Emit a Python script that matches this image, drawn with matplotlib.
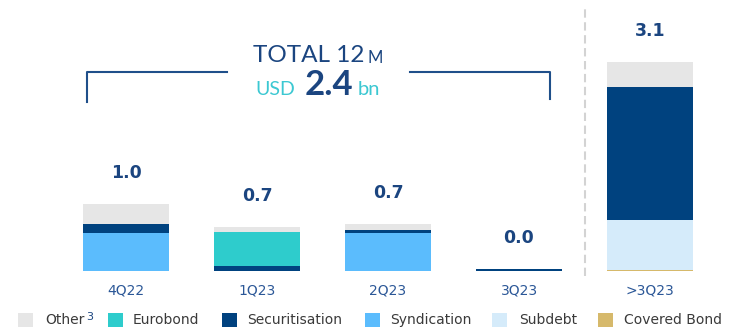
import matplotlib.pyplot as plt
from matplotlib.patches import Rectangle
import numpy as np

# Issuance by quarter, USD bn
periods = ['4Q22', '1Q23', '2Q23', '3Q23', '>3Q23']
covered_bond = [0.0, 0.0, 0.0, 0.0, 0.01]
subdebt = [0.0, 0.0, 0.0, 0.0, 0.74]
syndication = [0.57, 0.0, 0.56, 0.0, 0.0]
securitisation = [0.12, 0.07, 0.05, 0.03, 1.98]
eurobond = [0.0, 0.51, 0.0, 0.0, 0.0]
other = [0.31, 0.08, 0.09, 0.0, 0.37]

legend_labels = ['Other', 'Eurobond', 'Securitisation', 'Syndication', 'Subdebt', 'Covered Bond']

colors = {
    'Other': '#e6e6e6',
    'Eurobond': '#2ecccc',
    'Securitisation': '#00427f',
    'Syndication': '#5bbcfd',
    'Subdebt': '#d5ebfa',
    'Covered Bond': '#d6b96b',
}

navy = '#1b4580'
teal = '#3cc8d2'

W, H = 729, 330
fig = plt.figure(figsize=(W / 100, H / 100), dpi=100)
ax = fig.add_axes([0, 0, 1, 1])

# pixel scale of the plotting area
step = 131.0       # px between bar centres
unit = 67.4        # px per USD bn
x0, base = 126, 271
ax.set_xlim(-x0 / step, (W - x0) / step)
ax.set_ylim(-(H - base) / unit, base / unit)
ax.axis('off')


def fx(px):
    return px / W


def fy(py):
    return 1 - py / H


x = np.arange(len(periods))
width = 0.656

# stacked bars, bottom to top
stack = [('Covered Bond', covered_bond), ('Subdebt', subdebt), ('Syndication', syndication),
         ('Securitisation', securitisation), ('Eurobond', eurobond), ('Other', other)]
bottom = np.zeros(len(periods))
for name, vals in stack:
    vals = np.array(vals)
    ax.bar(x, vals, width=width, bottom=bottom, color=colors[name], linewidth=0)
    bottom += vals

# totals above the bars
for xi, total in zip(x, bottom):
    ax.text(xi, total + 31 / unit, f"{total:.1f}", ha='center', va='center',
            fontsize=12.5, fontweight='bold', color=navy)

# category labels
for xi, label in zip(x, periods):
    ax.text(xi, -19 / unit, label, ha='center', va='center', fontsize=10, color='#2b5797')

# separator between history and pipeline
ax.plot([3.5, 3.5], [-5 / unit, (base - 8) / unit], color='#d3d3d3', lw=1.5,
        dashes=(4, 2.2))

# bracket around the 12 month total
bracket_color = '#1f4f8a'
fig.add_artist(plt.Line2D([fx(87), fx(87), fx(227)], [fy(102), fy(72), fy(72)],
                          color=bracket_color, lw=1.5))
fig.add_artist(plt.Line2D([fx(410), fx(550), fx(550)], [fy(72), fy(72), fy(99)],
                          color=bracket_color, lw=1.5))

t = fig.text(fx(253), fy(62), 'TOTAL 12', fontsize=17.5, family='Lato', color=navy,
             va='baseline')
ax.annotate('M', xy=(1, 0), xycoords=t, xytext=(2, 0), textcoords='offset points',
            fontsize=12, family='Lato', color=navy, va='bottom')
fig.text(fx(255), fy(95), 'USD', fontsize=14, family='Lato', color=teal, va='baseline')
fig.text(fx(305), fy(95), '2.4', fontsize=25, family='Lato', fontweight='bold', color=navy,
         va='baseline')
fig.text(fx(358), fy(95), 'bn', fontsize=14.5, family='Lato', color=teal, va='baseline')

# legend
sq_x = [18, 108, 222, 365, 492, 598]
txt_x = [45, 133, 247, 390, 519, 624]
for sx, tx, name in zip(sq_x, txt_x, legend_labels):
    fig.add_artist(Rectangle((fx(sx), fy(327)), 15 / W, 14 / H, transform=fig.transFigure,
                             facecolor=colors[name], edgecolor='none'))
    txt = fig.text(fx(tx), fy(320), name, fontsize=10, color='#3a3a3a', va='center')
    if name == 'Other':
        ax.annotate('3', xy=(1, 1), xycoords=txt, xytext=(1.5, 1), textcoords='offset points',
                    fontsize=8, color=navy, va='top')

plt.savefig('out.png', dpi=100)
